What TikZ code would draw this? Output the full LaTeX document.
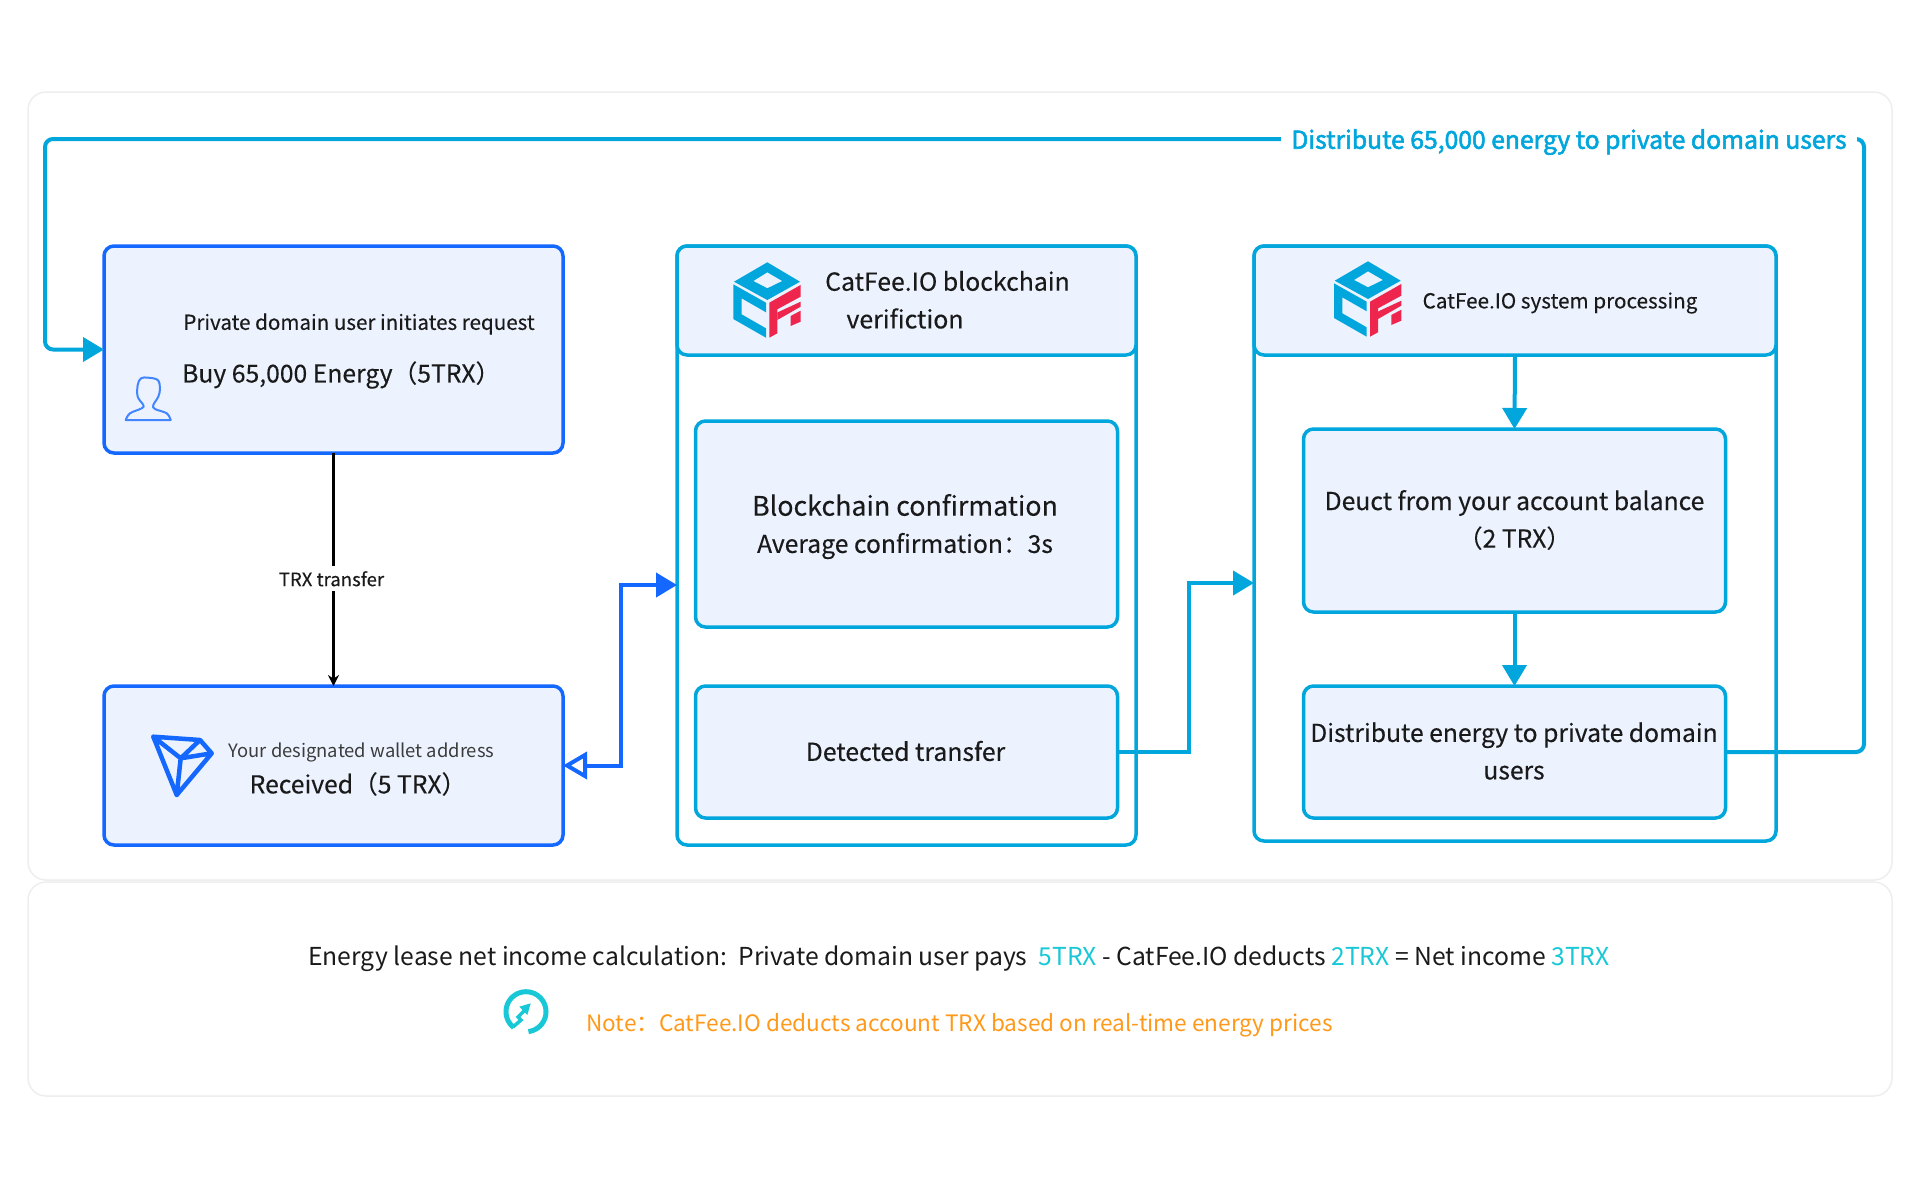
\documentclass[tikz,border=0pt]{standalone}
\usepackage{fontspec}
\setmainfont[FakeBold=0.2]{Noto Sans CJK SC}
\newfontfamily\plainfont{Noto Sans CJK SC}
\newfontfamily\headfont[FakeBold=2.2]{Noto Sans CJK SC}
\usetikzlibrary{arrows,arrows.meta}
\definecolor{trxblue}{RGB}{20, 103, 255}
\definecolor{catcyan}{RGB}{0, 166, 220}
\definecolor{boxfill}{RGB}{236, 243, 255}
\definecolor{panelline}{RGB}{238, 238, 238}
\definecolor{inktext}{RGB}{26, 26, 26}
\definecolor{tealtext}{RGB}{24, 200, 214}
\definecolor{notetext}{RGB}{255, 153, 26}
\definecolor{catred}{RGB}{238, 38, 78}
\newcommand{\fsz}[1]{\fontsize{#1}{37.5}\selectfont}
\tikzset{
  panel/.style={draw=panelline, line width=1.5pt, fill=white, rounded corners=18pt, inner sep=0pt, outer sep=0pt},
  trxbox/.style={draw=trxblue, line width=3.5pt, fill=boxfill, rounded corners=10pt, inner sep=0pt, outer sep=0pt},
  catbox/.style={draw=catcyan, line width=3.5pt, fill=boxfill, rounded corners=10pt, inner sep=0pt, outer sep=0pt},
  catframe/.style={draw=catcyan, line width=3.5pt, fill=white, rounded corners=10pt, inner sep=0pt, outer sep=0pt},
  label/.style={text=inktext, inner sep=0pt, align=center},
  catline/.style={draw=catcyan, line width=4pt},
  trxline/.style={draw=trxblue, line width=4pt},
  cattip/.style={-{Triangle[length=21pt,width=24pt]}},
  catfeelogo/.pic={
    \fill[catcyan, even odd rule] (0,-37.7) -- (32.7,-18.3) -- (0,0) -- (-33.3,-18.3) -- cycle
      (0,-27.7) -- (15,-19) -- (0,-11.7) -- (-14,-19) -- cycle;
    \fill[catcyan] (-34,-15.7) -- (-1.3,2.7) -- (-1.3,12.3) -- (-25.7,-1.7) -- (-25.7,14.3) -- (-1.3,28.3) -- (-1.3,37.7) -- (-34,19) -- cycle;
    \fill[catred] (2,2.7) -- (33.3,-15) -- (33.3,-3.3) -- (10,9.3) -- (10,33.3) -- (2,37.7) -- cycle;
    \fill[catred] (10,12.5) -- (33.3,1.7) -- (33.3,6.7) -- (10,20) -- cycle;
    \fill[catred] (23.3,16) -- (33.3,10.7) -- (33.3,21.7) -- (23.3,26) -- cycle;
  }
}

\begin{document}
\begin{tikzpicture}[x=1pt, y=-1pt]
    \useasboundingbox (0,0) rectangle (1920,1189);

    % background panels
    \node[panel, minimum width=1864pt, minimum height=788pt] (toppanel) at (960,486) {};
    \node[panel, minimum width=1864pt, minimum height=214pt] (bottompanel) at (960,989) {};

    % left column
    \node[trxbox, minimum width=459pt, minimum height=207pt] (request) at (333.5,349.5) {};
    \node[trxbox, minimum width=459pt, minimum height=159pt] (received) at (333.5,765.5) {};
    \node[label, font=\fsz{20.6}] (requesttext) at (359,324) {Private domain user initiates request};
    \node[label, font=\fsz{24.7}, anchor=west] (buytext) at (182,375) {Buy 65,000 Energy（5TRX）};
    \node[label, font=\plainfont\fsz{18.4}, text=inktext!85] (wallettext) at (361.5,752) {Your designated wallet address};
    \node[label, font=\fsz{24.7}, anchor=west] (receivedtext) at (249.5,784) {Received（5 TRX）};

    % middle column
    \node[catframe, minimum width=459pt, minimum height=599pt] (midframe) at (906.5,545.5) {};
    \node[catbox, minimum width=459pt, minimum height=109pt] (midhead) at (906.5,300.5) {};
    \node[catbox, minimum width=422pt, minimum height=206pt] (confirm) at (906.5,524) {};
    \node[catbox, minimum width=422pt, minimum height=132pt] (detected) at (906.5,752) {};
    \node[label, font=\fsz{24.8}, anchor=west] (midtexta) at (825,281) {CatFee.IO blockchain};
    \node[label, font=\fsz{24.9}] (midtextb) at (905,318.5) {verifiction};
    \node[label, font=\fsz{26.8}] (confirmtexta) at (905,505) {Blockchain confirmation};
    \node[label, font=\fsz{24.7}] (confirmtextb) at (905,546) {Average confirmation：3s};
    \node[label, font=\fsz{24.8}] (detectedtext) at (905.5,751) {Detected transfer};

    % right column
    \node[catframe, minimum width=522pt, minimum height=595pt] (rightframe) at (1515,543.5) {};
    \node[catbox, minimum width=522pt, minimum height=109pt] (righthead) at (1515,300.5) {};
    \node[catbox, minimum width=422pt, minimum height=183pt] (deduct) at (1514.5,520.5) {};
    \node[catbox, minimum width=422pt, minimum height=132pt] (distribute) at (1514.5,752) {};
    \node[label, font=\fsz{20.7}] (righttext) at (1560,303) {CatFee.IO system processing};
    \node[label, font=\fsz{24.7}] (deducttext) at (1514.5,520) {Deuct from your account balance\\（2 TRX）};
    \node[label, font=\fsz{24.7}] (distributetext) at (1514,751) {Distribute energy to private domain\\users};

    \pic at (767.3,300) {catfeelogo};
    \pic at (1368,299) {catfeelogo};

    % connectors
    \coordinate (topright) at (1864,139);
    \coordinate (topleft) at (45,139);
    \coordinate (elbowtrx) at (621,585);
    \coordinate (elbowcat) at (1189,583);
    \draw[catline, rounded corners=8pt, cattip] (distribute.east) -| (topright) -- (topleft) |- (request.west);
    \node[font=\headfont\fsz{24.7}, text=catcyan, fill=white, inner xsep=10pt, inner ysep=2pt] (toplabel) at (1569,142) {Distribute 65,000 energy to private domain users};
    \draw[black, line width=2.2pt, -{Stealth[length=11pt,width=11pt]}] (request.south) -- (received.north) node[pos=0.54, label, font=\fsz{18.6}, fill=white, inner ysep=5pt, xshift=-2pt] (trxtext) {TRX transfer};
    \draw[trxline, {Triangle[open,length=24pt,width=27pt]}-{Triangle[length=21pt,width=24pt]}] (received.east) -| (elbowtrx) -- (midframe.west |- elbowtrx);
    \draw[catline, cattip] (detected.east) -| (elbowcat) -- (rightframe.west |- elbowcat);
    \draw[catline, cattip] (righthead.south) -- (deduct.north);
    \draw[catline, cattip] (deduct.south) -- (distribute.north);

    % icons
    \draw[trxblue!80, line width=2pt, line join=round] plot[smooth, tension=0.6] coordinates {(125.7,420) (130,413.3) (141.7,408.3) (143.3,405) (137.7,396.7) (137.7,385) (141,378.3) (148.3,377.7) (157.7,380) (160,388.3) (158.3,396.7) (153.3,405) (155,409) (166.7,413.3) (170.7,420)} -- cycle;
    \draw[trxblue, line width=4.5pt, line join=round, line cap=round] (153.3,736.7) -- (200,740) -- (211.7,753.3) -- (176.7,795) -- cycle (153.3,736.7) -- (180.7,758.3) -- (176.7,795) (180.7,758.3) -- (200,740) (180.7,758.3) -- (211.7,753.3);
    \draw[tealtext, line width=5pt] plot[domain=-83:232, samples=50] ({526+20*cos(\x)},{1011.7-20*sin(\x)});
    \fill[tealtext] (530.7,1003.3) -- (519.3,1006.7) -- (527.3,1015) -- cycle;
    \draw[tealtext, line width=3.5pt] (524,1011) -- (518,1017) -- (521,1020) -- (513,1027);

    % bottom texts
    \node[label, font=\plainfont\fsz{24.7}] (incometext) at (959,958.5) {Energy lease net income calculation:\ \ Private domain user pays\ \ \textcolor{tealtext}{5TRX} - CatFee.IO deducts \textcolor{tealtext}{2TRX} = Net income \textcolor{tealtext}{3TRX}};
    \node[label, font=\plainfont\fsz{22.6}, text=notetext] (notetext) at (959.5,1025) {Note：CatFee.IO deducts account TRX based on real-time energy prices};
\end{tikzpicture}
\end{document}
